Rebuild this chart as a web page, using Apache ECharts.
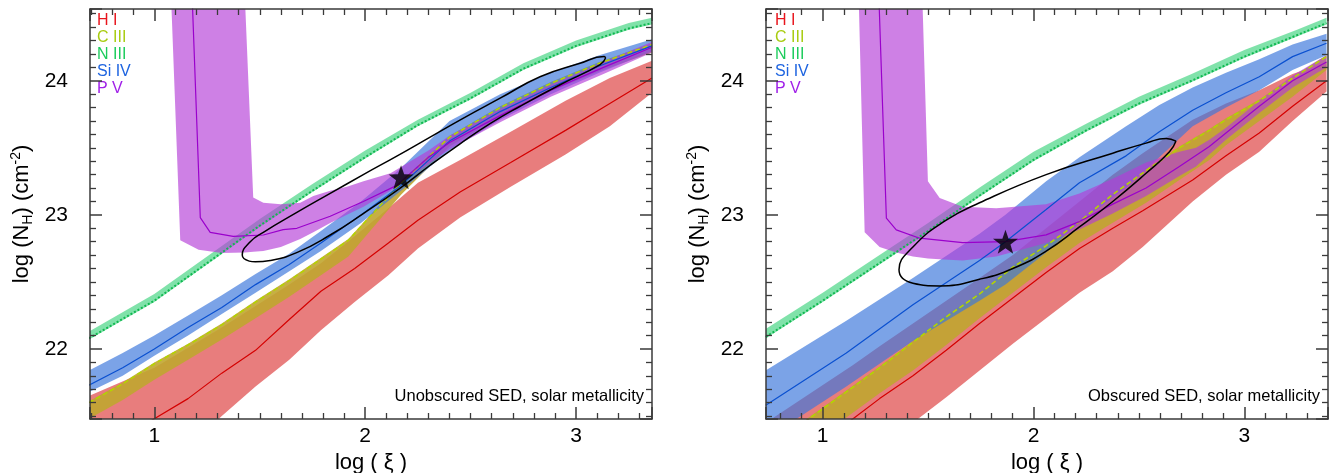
<!DOCTYPE html>
<html><head><meta charset="utf-8">
<script src="https://cdn.jsdelivr.net/npm/echarts@6/dist/echarts.min.js"></script>
<style>html,body{margin:0;padding:0;background:#fff}#c{width:1338px;height:473px}</style>
</head><body><div id="c"></div>
<script>
// ---------------- DATA ----------------
const X_TICKS = [1, 2, 3];
const Y_TICKS = [22, 23, 24];
const IONS = ['H I', 'C III', 'N III', 'Si IV', 'P V'];
const PANEL_NOTES = ['Unobscured SED, solar metallicity', 'Obscured SED, solar metallicity'];

// ----- Left panel: unobscured SED -----
const HI_L_x   = [0.69, 1.0, 1.16, 1.32, 1.48, 1.64, 1.79, 1.95, 2.11, 2.25, 2.45, 2.69, 2.95, 3.16, 3.36];
const HI_L_lo  = [20.60, 21.05, 21.27, 21.50, 21.72, 21.92, 22.14, 22.35, 22.55, 22.75, 22.98, 23.21, 23.45, 23.66, 23.91];
const HI_L_mid = [21.18, 21.48, 21.63, 21.82, 21.99, 22.22, 22.43, 22.60, 22.79, 22.96, 23.17, 23.39, 23.63, 23.83, 24.02];
const HI_L_hi  = [21.65, 21.86, 22.01, 22.16, 22.32, 22.48, 22.64, 22.84, 23.05, 23.24, 23.41, 23.62, 23.85, 24.02, 24.15];

const CIII_L_x   = [0.69, 0.85, 1.0, 1.16, 1.32, 1.48, 1.64, 1.79, 1.92, 2.17, 2.40, 2.64, 2.88, 3.11, 3.36];
const CIII_L_lo  = [21.48, 21.62, 21.77, 21.92, 22.07, 22.23, 22.39, 22.55, 22.69, 23.15, 23.51, 23.73, 23.92, 24.07, 24.21];
const CIII_L_mid = [21.60, 21.74, 21.89, 22.03, 22.18, 22.35, 22.51, 22.67, 22.81, 23.24, 23.58, 23.80, 23.98, 24.13, 24.27];
const CIII_L_hi  = [21.61, 21.75, 21.90, 22.04, 22.19, 22.36, 22.52, 22.68, 22.82, 23.25, 23.59, 23.81, 23.99, 24.14, 24.28];

const NIII_L_x   = [0.69, 1.0, 1.25, 1.5, 1.75, 2.0, 2.25, 2.5, 2.75, 3.0, 3.25, 3.36];
const NIII_L_lo  = [22.07, 22.35, 22.63, 22.91, 23.17, 23.42, 23.66, 23.86, 24.08, 24.25, 24.38, 24.42];
const NIII_L_mid = [22.08, 22.36, 22.64, 22.92, 23.18, 23.43, 23.67, 23.87, 24.09, 24.26, 24.39, 24.43];
const NIII_L_hi  = [22.13, 22.41, 22.69, 22.97, 23.23, 23.48, 23.71, 23.91, 24.13, 24.30, 24.43, 24.47];

const SIIV_L_x   = [0.69, 0.85, 1.0, 1.16, 1.32, 1.48, 1.64, 1.79, 1.98, 2.17, 2.40, 2.64, 2.88, 3.11, 3.36];
const SIIV_L_lo  = [21.68, 21.80, 21.95, 22.10, 22.26, 22.42, 22.58, 22.73, 22.94, 23.18, 23.48, 23.71, 23.90, 24.06, 24.22];
const SIIV_L_mid = [21.73, 21.86, 22.00, 22.16, 22.31, 22.48, 22.63, 22.79, 23.00, 23.22, 23.55, 23.77, 23.95, 24.11, 24.26];
const SIIV_L_hi  = [21.84, 21.97, 22.10, 22.25, 22.40, 22.56, 22.71, 22.88, 23.10, 23.35, 23.70, 23.90, 24.06, 24.19, 24.31];

const PV_L_x  = [1.08, 1.123, 1.21, 1.32, 1.43, 1.469, 1.517, 1.60, 1.692, 1.754, 1.834, 1.913, 1.992, 2.12, 2.30, 2.40, 2.64, 2.88, 3.13, 3.36];
const PV_L_lo = [24.6, 22.81, 22.74, 22.715, 22.72, 22.725, 22.73, 22.76, 22.82, 22.87, 22.94, 23.00, 23.06, 23.18, 23.38, 23.49, 23.69, 23.88, 24.05, 24.21];
const PV_L_hi = [24.6, 24.6, 24.6, 24.6, 24.6, 23.13, 23.09, 23.08, 23.09, 23.14, 23.18, 23.21, 23.25, 23.31, 23.48, 23.59, 23.79, 23.97, 24.14, 24.29];
const PV_L_lineX = [1.18, 1.218, 1.265, 1.374, 1.517, 1.611, 1.676, 1.834, 1.991, 2.15, 2.30, 2.40, 2.64, 2.88, 3.13, 3.36];
const PV_L_lineY = [24.6, 22.98, 22.87, 22.84, 22.85, 22.89, 22.90, 22.99, 23.10, 23.22, 23.43, 23.54, 23.74, 23.93, 24.10, 24.25];

const ELL_L_x = [3.14, 3.133, 3.019, 2.829, 2.640, 2.464, 2.308, 2.152, 1.991, 1.834, 1.678, 1.517, 1.455, 1.417,
                 1.45, 1.479, 1.550, 1.678, 1.834, 1.991, 2.166, 2.308, 2.450, 2.592, 2.735, 2.924, 3.114, 3.14];
const ELL_L_y = [24.17, 24.18, 24.13, 24.03, 23.87, 23.72, 23.58, 23.44, 23.30, 23.16, 23.02, 22.87, 22.80, 22.70,
                 22.655, 22.65, 22.66, 22.72, 22.85, 23.01, 23.20, 23.37, 23.53, 23.68, 23.81, 23.97, 24.12, 24.17];
const STAR_L = [2.17, 23.28];

// ----- Right panel: obscured SED -----
const HI_R_x   = [0.73, 1.144, 1.27, 1.428, 1.586, 1.744, 1.902, 2.06, 2.218, 2.376, 2.518, 2.755, 2.913, 3.071, 3.229, 3.39];
const HI_R_lo  = [20.60, 21.10, 21.25, 21.45, 21.64, 21.84, 22.04, 22.23, 22.42, 22.58, 22.76, 23.10, 23.30, 23.47, 23.70, 23.92];
const HI_R_mid = [21.03, 21.48, 21.63, 21.80, 21.99, 22.19, 22.38, 22.57, 22.75, 22.90, 23.03, 23.26, 23.44, 23.61, 23.81, 24.00];
const HI_R_hi  = [21.45, 21.88, 22.02, 22.19, 22.36, 22.53, 22.70, 22.90, 23.10, 23.30, 23.46, 23.71, 23.83, 23.93, 24.05, 24.14];

const CIII_R_x   = [0.73, 1.112, 1.27, 1.428, 1.586, 1.744, 1.902, 2.06, 2.218, 2.374, 2.534, 2.692, 2.834, 2.913, 3.071, 3.229, 3.39];
const CIII_R_lo  = [21.07, 21.49, 21.67, 21.84, 22.03, 22.23, 22.42, 22.61, 22.79, 22.94, 23.09, 23.26, 23.41, 23.52, 23.70, 23.88, 24.08];
const CIII_R_mid = [21.25, 21.68, 21.86, 22.05, 22.24, 22.41, 22.61, 22.77, 22.95, 23.15, 23.33, 23.50, 23.63, 23.71, 23.85, 24.02, 24.18];
const CIII_R_hi  = [21.26, 21.69, 21.87, 22.06, 22.25, 22.42, 22.62, 22.78, 22.96, 23.16, 23.34, 23.51, 23.64, 23.72, 23.86, 24.03, 24.19];

const NIII_R_x   = [0.73, 1.0, 1.25, 1.5, 1.75, 2.0, 2.25, 2.5, 2.75, 3.0, 3.25, 3.39];
const NIII_R_lo  = [22.08, 22.35, 22.61, 22.87, 23.14, 23.40, 23.62, 23.82, 23.99, 24.17, 24.33, 24.42];
const NIII_R_mid = [22.09, 22.36, 22.62, 22.88, 23.15, 23.41, 23.63, 23.83, 24.00, 24.18, 24.34, 24.43];
const NIII_R_hi  = [22.15, 22.42, 22.68, 22.94, 23.21, 23.47, 23.68, 23.88, 24.05, 24.23, 24.38, 24.47];

const SIIV_R_x   = [0.73, 1.112, 1.428, 1.744, 1.867, 2.06, 2.218, 2.439, 2.597, 2.755, 2.913, 3.071, 3.229, 3.39];
const SIIV_R_lo  = [21.33, 21.72, 22.06, 22.36, 22.48, 22.72, 22.94, 23.20, 23.43, 23.66, 23.80, 23.93, 24.08, 24.19];
const SIIV_R_mid = [21.58, 21.97, 22.33, 22.66, 22.80, 23.04, 23.24, 23.44, 23.62, 23.78, 23.91, 24.03, 24.18, 24.28];
const SIIV_R_hi  = [21.84, 22.21, 22.53, 22.86, 23.00, 23.25, 23.43, 23.66, 23.82, 23.95, 24.06, 24.16, 24.27, 24.35];

const PV_R_x  = [1.171, 1.199, 1.27, 1.349, 1.428, 1.473, 1.499, 1.555, 1.664, 1.823, 2.06, 2.218, 2.376, 2.534, 2.692, 2.771, 2.834, 2.913, 3.071, 3.229, 3.39];
const PV_R_lo = [24.6, 22.87, 22.76, 22.72, 22.69, 22.68, 22.675, 22.67, 22.66, 22.69, 22.79, 22.89, 23.01, 23.14, 23.29, 23.36, 23.45, 23.56, 23.76, 23.95, 24.10];
const PV_R_hi = [24.6, 24.6, 24.6, 24.6, 24.6, 24.6, 23.25, 23.125, 23.06, 23.05, 23.08, 23.16, 23.27, 23.39, 23.47, 23.50, 23.56, 23.65, 23.85, 24.04, 24.19];
const PV_R_lineX = [1.267, 1.302, 1.349, 1.46, 1.664, 1.867, 2.06, 2.218, 2.376, 2.534, 2.692, 2.834, 2.913, 3.071, 3.229, 3.39];
const PV_R_lineY = [24.6, 22.975, 22.888, 22.826, 22.793, 22.80, 22.851, 22.95, 23.08, 23.20, 23.36, 23.51, 23.61, 23.81, 24.00, 24.14];

const ELL_R_x = [2.676, 2.629, 2.534, 2.376, 2.060, 1.744, 1.586, 1.428, 1.362,
                 1.428, 1.555, 1.744, 1.902, 2.060, 2.218, 2.376, 2.534, 2.645, 2.676];
const ELL_R_y = [23.55, 23.57, 23.535, 23.46, 23.30, 23.09, 22.96, 22.76, 22.59,
                 22.49, 22.47, 22.52, 22.60, 22.73, 22.91, 23.10, 23.31, 23.47, 23.55];
const STAR_R = [1.867, 22.80];

// ---------------- STYLE ----------------
const FONT = '"Liberation Sans", Arial, Helvetica, sans-serif';
const AX = '#3a3a3a';
const BAND_COL = {
  hi: 'rgba(222,70,70,0.70)', c3: 'rgba(192,166,48,0.90)', n3: 'rgba(60,210,125,0.65)',
  si: 'rgba(60,120,220,0.68)', pv: 'rgba(180,60,215,0.65)'
};
const LINE_COL = { hi: '#d40000', c3: '#b4d400', n3: '#10b850', si: '#0a50d0', pv: '#9a00cc' };
const LEG_COL = ['#e8141c', '#a8cc10', '#1ccc5c', '#1e64e0', '#a020e8'];

// ---------------- BUILD ----------------
function zip(x, y) { return x.map((v, i) => [v, y[i]]); }

function band(x, lo, hi, color, ax) {
  const pts = zip(x, hi).concat(zip(x, lo).reverse());
  return {
    type: 'custom', xAxisIndex: ax, yAxisIndex: ax, clip: true, silent: true, z: 2,
    data: pts,
    renderItem: function (params, api) {
      if (params.dataIndex !== 0) return null;
      return { type: 'polygon', shape: { points: pts.map(p => api.coord(p)) }, style: { fill: color } };
    }
  };
}
function line(x, y, color, width, type, ax, z, smooth) {
  return {
    type: 'line', xAxisIndex: ax, yAxisIndex: ax, data: zip(x, y), symbol: 'none', showSymbol: false,
    smooth: smooth || false, silent: true, z: z || 3, clip: true,
    lineStyle: { color: color, width: width, type: type || 'solid' }
  };
}
const STAR_PATH = 'path://M50,0 L61.76,33.82 L97.55,34.55 L69.02,56.18 L79.39,90.45 L50,70 L20.61,90.45 L30.98,56.18 L2.45,34.55 L38.24,33.82 Z';
function star(pt, ax) {
  return { type: 'scatter', xAxisIndex: ax, yAxisIndex: ax, data: [pt], symbol: STAR_PATH,
    symbolSize: [25, 24], itemStyle: { color: '#000' }, silent: true, z: 6 };
}

function tickFmt(list) {
  return function (v) { const t = list.find(k => Math.abs(k - v) < 1e-6); return t === undefined ? '' : String(t); };
}
function xAxes(g, range) {
  const common = {
    type: 'value', gridIndex: g, min: range[0], max: range[1], minInterval: 1, maxInterval: 1, z: 10,
    axisLine: { show: true, onZero: false, lineStyle: { color: AX, width: 1.5 } },
    axisTick: { show: true, inside: true, length: 12, lineStyle: { color: AX, width: 1.5 } },
    minorTick: { show: true, splitNumber: 10, length: 6, lineStyle: { color: AX, width: 1.3 } },
    splitLine: { show: false }, minorSplitLine: { show: false }
  };
  return [
    Object.assign({}, common, {
      position: 'bottom',
      axisLabel: { show: true, margin: 7, fontSize: 21, color: '#000', fontFamily: FONT,
        formatter: tickFmt(X_TICKS), showMinLabel: false, showMaxLabel: false },
      name: 'log ( \u03BE )', nameLocation: 'middle', nameGap: 26,
      nameTextStyle: { fontSize: 22, color: '#000', fontFamily: FONT }
    }),
    Object.assign({}, common, { position: 'top', axisLabel: { show: false } })
  ];
}
function yAxes(g, range) {
  const common = {
    type: 'value', gridIndex: g, min: range[0], max: range[1], minInterval: 1, maxInterval: 1, z: 10,
    axisLine: { show: true, onZero: false, lineStyle: { color: AX, width: 1.5 } },
    axisTick: { show: true, inside: true, length: 12, lineStyle: { color: AX, width: 1.5 } },
    minorTick: { show: true, splitNumber: 10, length: 6, lineStyle: { color: AX, width: 1.3 } },
    splitLine: { show: false }, minorSplitLine: { show: false }
  };
  return [
    Object.assign({}, common, {
      position: 'left',
      axisLabel: { show: true, margin: 22, fontSize: 21, color: '#000', fontFamily: FONT,
        formatter: tickFmt(Y_TICKS), showMinLabel: false, showMaxLabel: false },
      name: '{n|log (N}{s|H}{n|) (cm}{p|-2}{n|)}', nameLocation: 'middle', nameGap: 55, nameRotate: 90,
      nameTextStyle: { fontSize: 22, color: '#000', fontFamily: FONT,
        rich: {
          n: { fontSize: 22, color: '#000', fontFamily: FONT, lineHeight: 26 },
          s: { fontSize: 14, color: '#000', fontFamily: FONT, verticalAlign: 'bottom', lineHeight: 26 },
          p: { fontSize: 14, color: '#000', fontFamily: FONT, verticalAlign: 'top', lineHeight: 26 }
        } }
    }),
    Object.assign({}, common, { position: 'right', axisLabel: { show: false } })
  ];
}

function panel(ax, d) {
  return [
    band(d.hx, d.hlo, d.hhi, BAND_COL.hi, ax),
    band(d.cx, d.clo, d.chi, BAND_COL.c3, ax),
    band(d.sx, d.slo, d.shi, BAND_COL.si, ax),
    band(d.nx, d.nlo, d.nhi, BAND_COL.n3, ax),
    band(d.px, d.plo, d.phi, BAND_COL.pv, ax),
    line(d.hx, d.hmid, LINE_COL.hi, 1.2, 'solid', ax),
    line(d.cx, d.cmid, LINE_COL.c3, 1.6, [5, 3], ax),
    line(d.nx, d.nmid, LINE_COL.n3, 2, [2, 2], ax),
    line(d.sx, d.smid, LINE_COL.si, 1.2, 'solid', ax),
    line(d.plx, d.ply, LINE_COL.pv, 1.2, 'solid', ax),
    line(d.ex, d.ey, '#000', 1.5, 'solid', ax, 5, 0.5),
    star(d.star, ax)
  ];
}

const series = [].concat(
  panel(0, { hx: HI_L_x, hlo: HI_L_lo, hmid: HI_L_mid, hhi: HI_L_hi,
    cx: CIII_L_x, clo: CIII_L_lo, cmid: CIII_L_mid, chi: CIII_L_hi,
    nx: NIII_L_x, nlo: NIII_L_lo, nmid: NIII_L_mid, nhi: NIII_L_hi,
    sx: SIIV_L_x, slo: SIIV_L_lo, smid: SIIV_L_mid, shi: SIIV_L_hi,
    px: PV_L_x, plo: PV_L_lo, phi: PV_L_hi, plx: PV_L_lineX, ply: PV_L_lineY,
    ex: ELL_L_x, ey: ELL_L_y, star: STAR_L }),
  panel(2, { hx: HI_R_x, hlo: HI_R_lo, hmid: HI_R_mid, hhi: HI_R_hi,
    cx: CIII_R_x, clo: CIII_R_lo, cmid: CIII_R_mid, chi: CIII_R_hi,
    nx: NIII_R_x, nlo: NIII_R_lo, nmid: NIII_R_mid, nhi: NIII_R_hi,
    sx: SIIV_R_x, slo: SIIV_R_lo, smid: SIIV_R_mid, shi: SIIV_R_hi,
    px: PV_R_x, plo: PV_R_lo, phi: PV_R_hi, plx: PV_R_lineX, ply: PV_R_lineY,
    ex: ELL_R_x, ey: ELL_R_y, star: STAR_R })
);

const GRIDS = [
  { left: 90, top: 9, width: 562, height: 410 },
  { left: 766, top: 9, width: 562, height: 410 }
];
const L_XRANGE = [0.695, 3.36];
const R_XRANGE = [0.731, 3.397];
const Y_RANGE = [21.478, 24.535];

const graphics = [];
[GRIDS[0].left + 7, GRIDS[1].left + 9].forEach(function (gx) {
  IONS.forEach(function (name, i) {
    graphics.push({ type: 'text', x: gx, y: 21 + i * 16.8, silent: true,
      style: { text: name, fill: LEG_COL[i], font: '16px ' + FONT, verticalAlign: 'middle', align: 'left' } });
  });
});
graphics.push({ type: 'text', x: GRIDS[0].left + GRIDS[0].width - 8, y: 396, silent: true,
  style: { text: PANEL_NOTES[0], fill: '#000', font: '16.5px ' + FONT, verticalAlign: 'middle', align: 'right' } });
graphics.push({ type: 'text', x: GRIDS[1].left + GRIDS[1].width - 8, y: 396, silent: true,
  style: { text: PANEL_NOTES[1], fill: '#000', font: '16.5px ' + FONT, verticalAlign: 'middle', align: 'right' } });

const chart = echarts.init(document.getElementById('c'), null, { renderer: 'canvas', width: 1338, height: 473 });
chart.setOption({
  animation: false,
  backgroundColor: '#fff',
  grid: GRIDS.map(g => Object.assign({ containLabel: false, outerBoundsMode: 'none' }, g)),
  xAxis: xAxes(0, L_XRANGE).concat(xAxes(1, R_XRANGE)),
  yAxis: yAxes(0, Y_RANGE).concat(yAxes(1, Y_RANGE)),
  series: series,
  graphic: graphics
});
</script>
</body></html>
